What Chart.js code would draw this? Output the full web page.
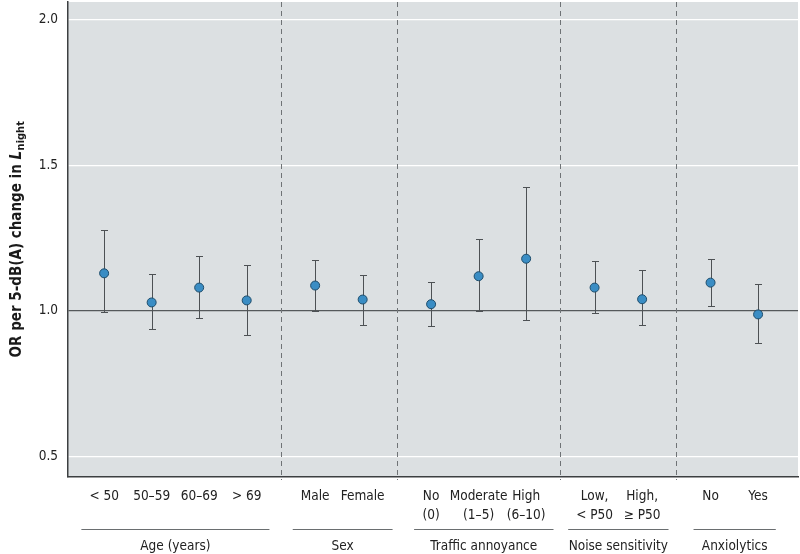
<!DOCTYPE html>
<html>
<head>
<meta charset="utf-8">
<script src="https://cdn.jsdelivr.net/npm/chart.js@4/dist/chart.umd.min.js"></script>
<style>
  html,body{margin:0;padding:0;background:#fff}
  #wrap{width:800px;height:554px;position:relative}
</style>
</head>
<body>
<div id="wrap"><canvas id="orChart"></canvas></div>
<script>
'use strict';
// subgroups and their labels (multi-line where the figure wraps)
const categories = [['< 50'],['50–59'],['60–69'],['> 69'],
                    ['Male'],['Female'],
                    ['No','(0)'],['Moderate','(1–5)'],['High','(6–10)'],
                    ['Low,','< P50'],['High,','≥ P50'],
                    ['No'],['Yes']];
const groupOf    = [0,0,0,0, 1,1, 2,2,2, 3,3, 4,4];
const groupNames = ['Age (years)','Sex','Traffic annoyance','Noise sensitivity','Anxiolytics'];
const orValues = [1.129,1.029,1.080,1.036, 1.087,1.039, 1.023,1.119,1.179, 1.080,1.040, 1.097,0.988];
const ciLow    = [0.996,0.938,0.977,0.919, 1.001,0.953, 0.947,0.999,0.968, 0.992,0.951, 1.018,0.890];
const ciHigh   = [1.279,1.125,1.187,1.158, 1.176,1.123, 1.098,1.248,1.425, 1.171,1.140, 1.179,1.091];
const yTicks   = [0.5,1.0,1.5,2.0];

const FONT = "'Liberation Sans Narrow','DejaVu Sans Condensed',sans-serif";
const GROUP_GAP = 0.44;
const xPos = categories.map((c,i)=>i + GROUP_GAP*groupOf[i]);

const bgPlugin = {
  id:'bg',
  beforeDraw(chart){
    const {ctx, chartArea:a} = chart;
    ctx.save(); ctx.fillStyle='#dce0e2';
    ctx.fillRect(a.left, a.top, a.right-a.left, a.bottom-a.top);
    ctx.restore();
  }
};

const marksPlugin = {
  id:'marks',
  beforeDatasetsDraw(chart){
    const {ctx, chartArea:a, scales:{x,y}} = chart;
    ctx.save();
    // dashed dividers between groups
    ctx.strokeStyle='#6f7376'; ctx.lineWidth=1; ctx.setLineDash([5,4]);
    for(let i=1;i<xPos.length;i++){
      if(groupOf[i]!==groupOf[i-1]){
        const px = Math.round(x.getPixelForValue((xPos[i]+xPos[i-1])/2))+0.5;
        ctx.beginPath(); ctx.moveTo(px,a.top); ctx.lineTo(px,a.bottom+3); ctx.stroke();
      }
    }
    ctx.setLineDash([]);
    // confidence intervals
    ctx.strokeStyle='#4d5154'; ctx.lineWidth=1;
    xPos.forEach((v,i)=>{
      const px = Math.round(x.getPixelForValue(v))+0.5;
      const yl = Math.round(y.getPixelForValue(ciLow[i]))+0.5;
      const yh = Math.round(y.getPixelForValue(ciHigh[i]))+0.5;
      ctx.beginPath();
      ctx.moveTo(px,yl); ctx.lineTo(px,yh);
      ctx.moveTo(px-3.5,yl); ctx.lineTo(px+3.5,yl);
      ctx.moveTo(px-3.5,yh); ctx.lineTo(px+3.5,yh);
      ctx.stroke();
    });
    ctx.restore();
  },
  afterDraw(chart){
    const {ctx, chartArea:a, scales:{x}} = chart;
    ctx.save();
    // group underlines + names
    groupNames.forEach((name,g)=>{
      const idx = groupOf.map((gg,i)=>gg===g?i:-1).filter(i=>i>=0);
      const x1 = x.getPixelForValue(xPos[idx[0]]);
      const x2 = x.getPixelForValue(xPos[idx[idx.length-1]]);
      ctx.font = '13.5px '+FONT;
      let w1 = 0, w2 = 0;
      categories[idx[0]].forEach(t=>w1=Math.max(w1,ctx.measureText(t).width));
      categories[idx[idx.length-1]].forEach(t=>w2=Math.max(w2,ctx.measureText(t).width));
      const l = Math.min(x1-17, x1-w1/2-8), r = Math.max(x2+17, x2+w2/2+8);
      ctx.strokeStyle='#6a6e70'; ctx.lineWidth=1;
      ctx.beginPath(); ctx.moveTo(l,529.5); ctx.lineTo(r,529.5); ctx.stroke();
      ctx.fillStyle='#222'; ctx.textAlign='center'; ctx.textBaseline='middle';
      ctx.fillText(name,(l+r)/2,546);
    });
    // y-axis title with italic L and subscript
    const cy = (a.top+a.bottom)/2;
    ctx.translate(17,cy); ctx.rotate(-Math.PI/2);
    const p1 = 'OR per 5-dB(A) change in ', p2 = 'L', p3 = 'night';
    const f1 = 'bold 15px '+FONT, f2 = 'italic bold 15px '+FONT, f3 = 'bold 11px '+FONT;
    ctx.font=f1; const w1=ctx.measureText(p1).width;
    ctx.font=f2; const w2=ctx.measureText(p2).width;
    ctx.font=f3; const w3=ctx.measureText(p3).width;
    let sx = -(w1+w2+w3)/2;
    ctx.fillStyle='#1a1a1a'; ctx.textAlign='left'; ctx.textBaseline='middle';
    ctx.font=f1; ctx.fillText(p1,sx,0); sx+=w1;
    ctx.font=f2; ctx.fillText(p2,sx,0); sx+=w2+0.5;
    ctx.font=f3; ctx.fillText(p3,sx,4);
    ctx.restore();
  }
};

new Chart(document.getElementById('orChart'), {
  type:'scatter',
  data:{ datasets:[{
    data: xPos.map((v,i)=>({x:v, y:orValues[i]})),
    backgroundColor:'#3a8dc4', borderColor:'#1f4d6b', borderWidth:1,
    pointRadius:4.5, pointHoverRadius:4.5
  }]},
  options:{
    responsive:true, maintainAspectRatio:false, animation:false,
    layout:{autoPadding:false, padding:{top:2,right:2,left:0,bottom:0}},
    plugins:{legend:{display:false}, tooltip:{enabled:false}},
    scales:{
      x:{
        type:'linear', min:-0.76, max:14.6,
        afterBuildTicks:s=>{ s.ticks = xPos.map(v=>({value:v})); },
        afterFit:s=>{ s.height = 77; s.paddingLeft = 0; s.paddingRight = 0; },
        grid:{display:false, drawTicks:false},
        border:{display:true,color:'#3c3f41',width:1.5},
        ticks:{autoSkip:false, maxRotation:0, padding:10, color:'#222',
          font:{family:FONT,size:13.5,lineHeight:1.4},
          callback:(v,i)=>categories[i]}
      },
      y:{
        min:0.43, max:2.06,
        afterBuildTicks:s=>{ s.ticks = yTicks.map(v=>({value:v})); },
        afterFit:s=>{ s.width = 68; s.paddingTop = 0; s.paddingBottom = 0; },
        grid:{drawTicks:false, lineWidth:1.2,
          color:c=>c.tick && c.tick.value===1 ? '#55595b' : '#ffffff'},
        border:{display:true,color:'#3c3f41',width:1.5},
        ticks:{padding:10, color:'#222', font:{family:FONT,size:13.5},
          callback:v=>v.toFixed(1)}
      }
    }
  },
  plugins:[bgPlugin, marksPlugin]
});
</script>
</body>
</html>
